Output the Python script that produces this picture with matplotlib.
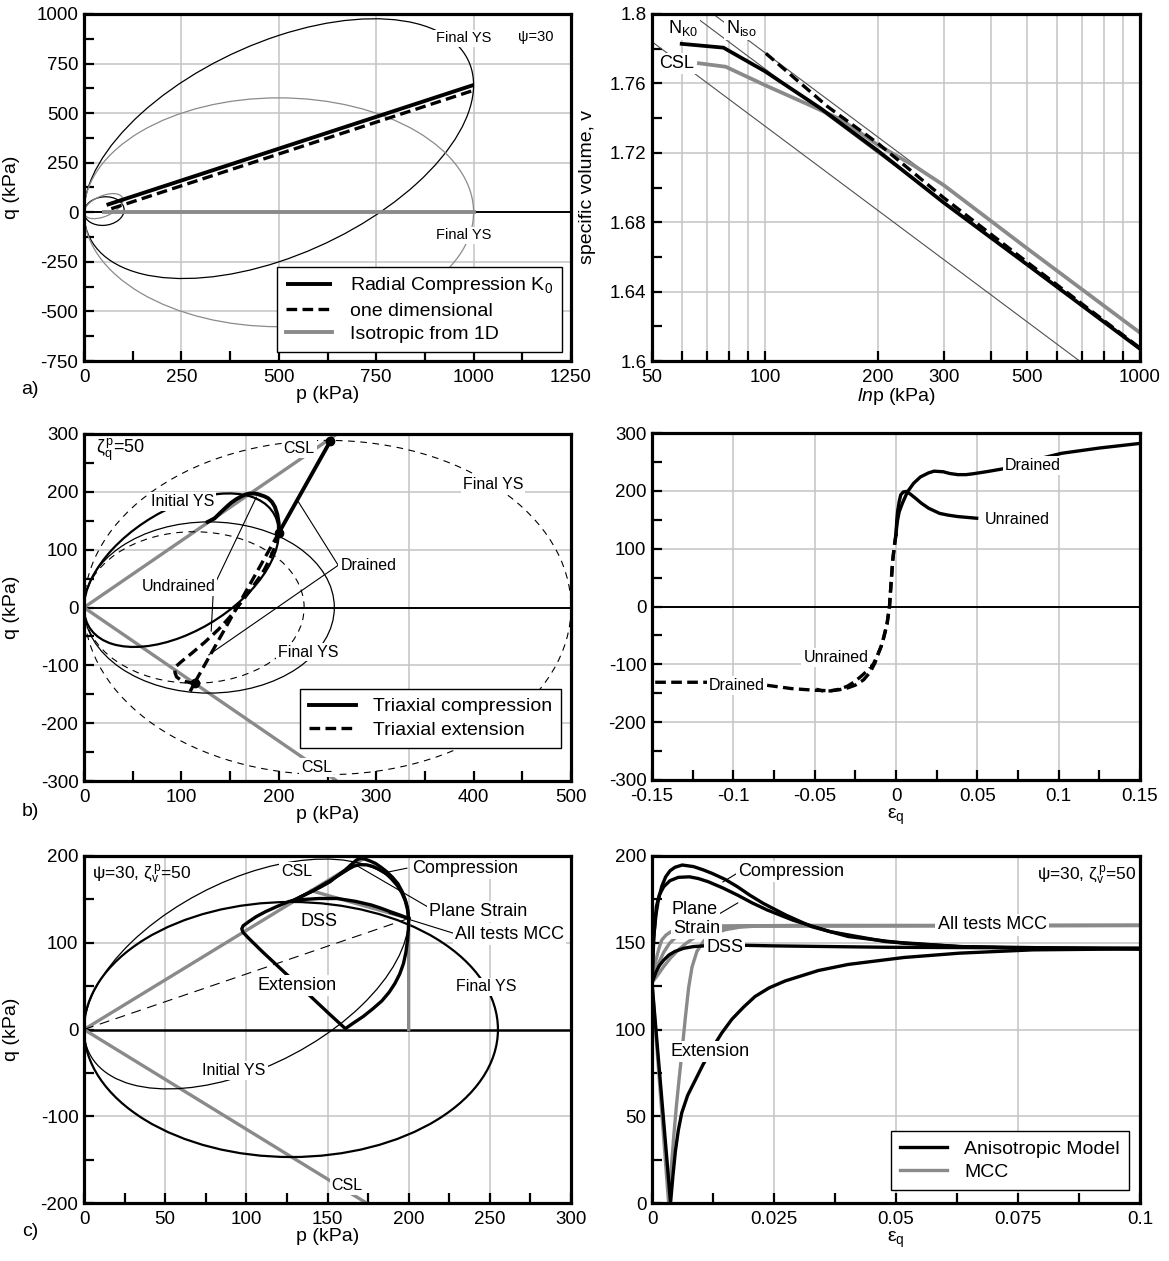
import numpy as np
import matplotlib
matplotlib.use('Agg')
import matplotlib.pyplot as plt
from matplotlib.patches import Ellipse
from matplotlib.transforms import Affine2D
from matplotlib.ticker import NullLocator

plt.rcParams['font.family'] = ['Liberation Sans', 'DejaVu Sans']
plt.rcParams['mathtext.fontset'] = 'custom'
plt.rcParams['mathtext.rm'] = 'Liberation Sans'
plt.rcParams['mathtext.it'] = 'Liberation Sans:italic'
plt.rcParams['mathtext.bf'] = 'Liberation Sans:bold'
plt.rcParams['axes.unicode_minus'] = False

# ---------------- data: panel a (p-q) ----------------
a_k0_p = [58, 1000]
a_k0_q = [37, 642]
a_1d_p = [70, 1000]
a_1d_q = [18, 615]
a_iso_p = [52, 1000]
a_iso_q = [0, 0]
# yield surfaces: tip p, tip q, half height at centre
a_ys_tip_p = [1000, 1000, 103, 100]
a_ys_tip_q = [642, 0, 12, 62]
a_ys_h = [571, 577, 72, 55]

# ---------------- data: panel a right (v - ln p) ----------------
v_k0_p = [60, 77.5, 100, 141, 200, 300, 500, 1000]
v_k0_v = [1.7828, 1.7806, 1.767, 1.7455, 1.7212, 1.6912, 1.6556, 1.607]
v_1d_p = [100.6, 147, 200, 300, 500, 1000]
v_1d_v = [1.7773, 1.7466, 1.7255, 1.694, 1.657, 1.6075]
v_iso_p = [66.7, 78.6, 100, 130, 160, 200, 250, 300, 500, 1000]
v_iso_v = [1.7716, 1.7696, 1.759, 1.748, 1.739, 1.7245, 1.7125, 1.7013, 1.6649, 1.6163]
nk0_p = [50, 1000]
nk0_v = [1.817, 1.607]
niso_p = [50, 1000]
niso_v = [1.8263, 1.6163]
vcsl_p = [50, 1000]
vcsl_v = [1.784, 1.574]

# ---------------- data: panel b (triaxial) ----------------
b_cslc_p = [0, 258]
b_cslc_q = [0, 298]
b_csle_p = [0, 258]
b_csle_q = [0, -298]
b_ys_tip_p = [200, 500, 257, 226]
b_ys_tip_q = [129, 0, 0, 0]
b_ys_h = [116, 289, 148, 131]
b_uc_p = [200, 200, 198.5, 196, 193, 189, 185.5, 182, 178.5, 175, 170, 166, 162, 156.5, 151, 146,
          141, 134, 127]
b_uc_q = [129, 145, 161, 174, 182.5, 189, 192, 194, 196, 197, 197, 195.5, 192.5, 187.5, 181, 173.5,
          165.5, 154, 148]
b_dc_p = [200, 253]
b_dc_q = [129, 288]
b_ue_p = [200, 198, 196, 192.5, 189, 185, 180, 175, 170, 165, 160, 155, 150, 144, 138, 131, 124,
          117, 110, 104, 99, 95, 93, 93.5, 95, 99, 104, 109, 113]
b_ue_q = [129, 118, 105, 91, 78, 65, 52, 40, 28, 17, 6, -5, -16, -27, -38, -49, -60, -70, -80,
          -88, -95, -101, -106, -113, -120, -125, -128, -130, -131]
b_de_p = [200, 157, 113.5, 109]
b_de_q = [129, 0, -130.5, -145]
b_dot_p = [253, 200, 113.5]
b_dot_q = [288, 129, -130.5]

# ---------------- data: panel b right (q - eps_q) ----------------
br_dc_e = [0, 0.0005, 0.001, 0.002, 0.004, 0.007, 0.0108, 0.015, 0.02, 0.0234, 0.029, 0.033,
           0.038, 0.043, 0.0474, 0.0565, 0.0657, 0.08, 0.102, 0.125, 0.15]
br_dc_q = [125, 140, 150, 164, 179, 198, 213, 224, 231, 234, 233, 230, 228, 228, 229.5, 233.5,
           238, 250, 265, 274, 282]
br_uc_e = [0, 0.0005, 0.001, 0.002, 0.0029, 0.0045, 0.0063, 0.009, 0.0125, 0.0154, 0.02, 0.0268,
           0.032, 0.038, 0.0496]
br_uc_q = [125, 150, 165, 182, 193, 198, 199, 194, 186, 179, 170, 161, 158, 155.5, 152.6]
br_ue_e = [0, -0.001, -0.002, -0.003, -0.004, -0.0055, -0.0075, -0.009, -0.011, -0.014, -0.018,
           -0.022, -0.026, -0.03, -0.035, -0.040, -0.045, -0.049]
br_ue_q = [125, 105, 80, 42, 0, -30, -53, -68, -82, -100, -112, -122, -131, -138, -143, -146,
           -146, -143]
br_de_e = [0, -0.001, -0.002, -0.003, -0.004, -0.0055, -0.0075, -0.009, -0.011, -0.013, -0.016,
           -0.020, -0.025, -0.030, -0.035, -0.040, -0.049, -0.064, -0.080, -0.10, -0.117, -0.15]
br_de_q = [125, 105, 80, 42, 0, -30, -53, -68, -82, -98, -114, -127, -136, -141, -144, -145.5,
           -145, -142, -136, -132, -131, -131]

# ---------------- data: panel c (p-q) ----------------
c_cslc_p = [0, 175]
c_cslc_q = [0, 200]
c_csle_p = [0, 174]
c_csle_q = [0, -200]
c_k0_p = [0, 200]
c_k0_q = [0, 128]
c_ys_tip_p = [200, 255]
c_ys_tip_q = [128, 0]
c_ys_h = [116, 147]
c_comp_p = [200, 199.3, 198, 196, 193.4, 190, 186.4, 183, 179.5, 176.5, 173.7, 171.3, 169.5,
            167.9, 164.5, 160.9, 156, 151.6, 146, 140, 134, 128.5]
c_comp_q = [128, 140, 149, 159, 168, 175.5, 182, 187, 191.5, 194, 196, 197.3, 196.8, 195.4,
            190, 183.8, 177, 170.4, 164.5, 158.8, 153.5, 148.5]
c_ps_p = [200, 199.2, 198, 195.8, 193, 189.5, 186, 182, 178, 174, 170, 166.5, 163, 157.5, 152,
          146, 140, 134, 128.5]
c_ps_q = [128, 139, 148, 157.5, 166, 173.5, 180, 184.5, 188, 189.8, 190, 188.5, 185, 178.5, 172,
          165.5, 159, 153.5, 148]
c_dss_p = [200, 194.5, 188.7, 183, 177, 167, 156, 144.7, 136, 128.5]
c_dss_q = [128, 132, 135.8, 139.8, 143.5, 147.8, 151, 151, 150, 148.5]
c_ext_p = [200, 199.8, 199.2, 198.3, 196.8, 194.5, 191.5, 188, 183.5, 178, 172, 166, 161, 150.5,
           140, 124, 110, 101, 98, 97.2, 98, 101.5, 106, 111.8, 118.5, 126, 128.5]
c_ext_q = [128, 115, 102, 89, 76, 64, 53, 43, 33, 24, 15, 7.5, 1, 19, 37.5, 65, 89.5, 106, 112,
           116, 119.5, 124.3, 130, 135.8, 141.5, 147.4, 148.5]
c_mcc_p = [200, 200, 140]
c_mcc_q = [0, 128, 160]

# ---------------- data: panel c right (q - eps_q) ----------------
cr_comp_e = [0, 0.0003, 0.0008, 0.0013, 0.002, 0.0028, 0.0037, 0.0047, 0.0062, 0.0085, 0.0105,
             0.0123, 0.015, 0.0175, 0.02, 0.0228, 0.0274, 0.0327, 0.0402, 0.0516, 0.063, 0.078,
             0.1]
cr_comp_q = [127, 151.6, 166, 174.7, 182.5, 188, 191.5, 193.5, 194.8, 193.9, 192, 190, 186.5,
             182.3, 177.5, 172.7, 166, 159.3, 153.6, 149.7, 147.8, 146.8, 146.8]
cr_ps_e = [0, 0.0004, 0.0009, 0.0015, 0.0024, 0.0037, 0.0054, 0.0077, 0.0095, 0.0115, 0.0145,
           0.0175, 0.0205, 0.0236, 0.0289, 0.0365, 0.0478, 0.063, 0.1]
cr_ps_q = [127, 155, 170.8, 177.5, 182.3, 185.8, 187.7, 188, 187, 185.2, 181.6, 177.5, 173,
           168.9, 163, 156.4, 150.7, 147.8, 146.3]
cr_dss_e = [0, 0.0004, 0.0008, 0.0015, 0.0024, 0.0035, 0.0047, 0.0065, 0.0085, 0.0138, 0.025,
            0.0478, 0.1]
cr_dss_q = [127, 130, 133, 136.8, 140, 143, 145, 146.8, 147.8, 148.8, 148.2, 147.4, 146.8]
cr_ext_e = [0, 0.0038, 0.0043, 0.0048, 0.0054, 0.0061, 0.0073, 0.0089, 0.0105, 0.0123, 0.0143,
            0.0164, 0.0188, 0.0211, 0.024, 0.0273, 0.0341, 0.0402, 0.0516, 0.063, 0.078, 0.1]
cr_ext_q = [127, 0, 16, 30, 42, 52, 62, 71, 80, 89, 98, 106, 113, 119, 124, 128, 134, 137.5,
            141.5, 144, 145.9, 146.5]
cr_mcomp_e = [0, 0.0004, 0.0008, 0.0014, 0.002, 0.0029, 0.0039, 0.0053, 0.007, 0.0095, 0.0138, 0.1]
cr_mcomp_q = [127, 134, 140, 146.5, 151.6, 154.5, 156.4, 158, 159, 159.5, 159.7, 160]
cr_mps_e = [0, 0.0006, 0.0013, 0.0024, 0.0036, 0.0048, 0.0062, 0.008, 0.01, 0.013, 0.018, 0.1]
cr_mps_q = [127, 132.5, 138, 144.5, 149.7, 153, 155.5, 157.2, 158.3, 159.2, 159.7, 160]
cr_mdss_e = [0, 0.0012, 0.0024, 0.0038, 0.0054, 0.0069, 0.0085, 0.0103, 0.0123, 0.0148, 0.0175,
             0.022, 0.03, 0.1]
cr_mdss_q = [127, 131.5, 136.3, 141.2, 145.9, 149.5, 152.6, 155.2, 157.4, 158.6, 159.3, 159.8,
             160, 160]
cr_mext_e = [0, 0.0034, 0.004, 0.0045, 0.005, 0.0055, 0.0061, 0.0068, 0.0075, 0.0082, 0.0092,
             0.0106, 0.0125, 0.015, 0.018, 0.022, 0.1]
cr_mext_q = [127, 0, 22, 40, 56, 70, 86, 106, 124, 136, 145, 151, 155, 157.5, 159, 159.7, 160]

# ---------------- styling helpers ----------------
GRID = '#c4c4c4'
GRAY = '#8a8a8a'
W, H = 1169, 1261
fig = plt.figure(figsize=(W / 100, H / 100), dpi=100)


def rect(x0, x1, ytop, ybot):
    return [x0 / W, 1 - ybot / H, (x1 - x0) / W, (ybot - ytop) / H]


def setup(ax, xlim, ylim, xmaj, xlab, xmin, ymaj, ylab, ymin, xgrid, ygrid):
    ax.set_xlim(*xlim)
    ax.set_ylim(*ylim)
    ax.set_xticks(xmaj, labels=xlab)
    ax.set_yticks(ymaj, labels=ylab)
    if xmin is not None:
        ax.set_xticks(xmin, minor=True)
    else:
        ax.xaxis.set_minor_locator(NullLocator())
    if ymin is not None:
        ax.set_yticks(ymin, minor=True)
    else:
        ax.yaxis.set_minor_locator(NullLocator())
    for g in xgrid:
        ax.axvline(g, color=GRID, lw=1.1, zorder=0)
    for g in ygrid:
        ax.axhline(g, color=GRID, lw=1.1, zorder=0)
    ax.tick_params(which='both', direction='in', top=False, right=False,
                   width=1.6, length=7, labelsize=13.5)
    ax.tick_params(axis='x', which='both', pad=6)
    ax.tick_params(axis='y', which='both', pad=4)
    for s in ax.spines.values():
        s.set_linewidth(2.3)
        s.set_zorder(10)


def ys(ax, tip_p, tip_q, h, **kw):
    e = Ellipse((0, 0), 2, 2, fill=False, **kw)
    tr = Affine2D(np.array([[tip_p / 2, 0, tip_p / 2],
                            [tip_q / 2, h, tip_q / 2],
                            [0, 0, 1]])) + ax.transData
    e.set_transform(tr)
    ax.add_patch(e)


def lab(ax, x, y, s, fs=10.5, color='k', **kw):
    ax.text(x, y, s, ha='center', va='center', fontsize=fs, color=color, zorder=6,
            bbox=dict(boxstyle='square,pad=0.12', fc='white', ec='none'), **kw)


def lead(ax, x0, y0, x1, y1, color='k'):
    ax.annotate('', xy=(x1, y1), xytext=(x0, y0),
                arrowprops=dict(arrowstyle='-', color=color, lw=0.8,
                                shrinkA=0, shrinkB=0), zorder=5)


def legend(ax, anchor, fs=13.5, handles=None, labels=None):
    kw = dict(loc='lower right', bbox_to_anchor=anchor, borderaxespad=0,
              fontsize=fs, frameon=True, fancybox=False, framealpha=1,
              edgecolor='k', handlelength=2.4, handletextpad=0.9,
              labelspacing=0.3, borderpad=0.45)
    if handles is None:
        lg = ax.legend(**kw)
    else:
        lg = ax.legend(handles, labels, **kw)
    lg.get_frame().set_linewidth(1.0)
    lg.set_zorder(20)


TH = 2.4  # thick line width
DASH = (0, (3.2, 1.6))

# ================= panel a left =================
ax = fig.add_axes(rect(84, 571, 14, 361))
setup(ax, (0, 1250), (-750, 1000),
      [0, 250, 500, 750, 1000, 1250], ['0', '250', '500', '750', '1000', '1250'],
      [125, 375, 625, 875, 1125],
      [-750, -500, -250, 0, 250, 500, 750, 1000],
      ['-750', '-500', '-250', '0', '250', '500', '750', '1000'],
      [-625, -375, -125, 125, 375, 625, 875],
      [250, 500, 750, 1000], [-500, -250, 250, 500, 750])
ax.axhline(0, color='k', lw=1.4, zorder=1)
ys(ax, a_ys_tip_p[0], a_ys_tip_q[0], a_ys_h[0], color='k', lw=0.9, zorder=2)
ys(ax, a_ys_tip_p[1], a_ys_tip_q[1], a_ys_h[1], color=GRAY, lw=0.9, zorder=2)
ys(ax, a_ys_tip_p[2], a_ys_tip_q[2], a_ys_h[2], color='k', lw=0.9, zorder=2)
ys(ax, a_ys_tip_p[3], a_ys_tip_q[3], a_ys_h[3], color=GRAY, lw=0.9, zorder=2)
ax.plot(a_k0_p, a_k0_q, color='k', lw=TH + 0.4, zorder=3, label=r'Radial Compression K$_0$',
        solid_capstyle='butt')
ax.plot(a_1d_p, a_1d_q, color='k', lw=TH, ls=DASH, zorder=3, label='one dimensional')
ax.plot(a_iso_p, a_iso_q, color=GRAY, lw=TH + 0.4, zorder=3, label='Isotropic from 1D')
lab(ax, 975, 877, 'Final YS', fs=10.5)
lab(ax, 975, -116, 'Final YS', fs=10.5)
ax.text(1160, 886, 'ψ=30', ha='center', va='center', fontsize=10.5, zorder=6)
ax.set_xlabel('p (kPa)', fontsize=14, labelpad=0)
ax.set_ylabel('q (kPa)', fontsize=14)
ax.yaxis.set_label_coords(-0.131, 0.5)
legend(ax, (0.981, 0.026), fs=14)

# ================= panel a right =================
ax = fig.add_axes(rect(652, 1140, 14, 361))
ax.set_xscale('log')
vt = [50, 60, 70, 80, 90, 100, 200, 300, 400, 500, 600, 700, 800, 900, 1000]
vl = ['50', '', '', '', '', '100', '200', '300', '', '500', '', '', '', '', '1000']
setup(ax, (50, 1000), (1.6, 1.8), vt, vl, None,
      [1.6, 1.64, 1.68, 1.72, 1.76, 1.8], ['1.6', '1.64', '1.68', '1.72', '1.76', '1.8'],
      [1.62, 1.66, 1.70, 1.74, 1.78],
      vt[1:-1], [1.64, 1.68, 1.72, 1.76])
ax.plot(nk0_p, nk0_v, color='#505050', lw=0.8, zorder=2)
ax.plot(niso_p, niso_v, color='#505050', lw=0.8, zorder=2)
ax.plot(vcsl_p, vcsl_v, color='#505050', lw=0.8, zorder=2)
ax.plot(v_iso_p, v_iso_v, color=GRAY, lw=TH + 0.3, zorder=3)
ax.plot(v_k0_p, v_k0_v, color='k', lw=TH + 0.3, zorder=3)
ax.plot(v_1d_p, v_1d_v, color='k', lw=TH, ls=DASH, zorder=3)
lab(ax, 60.4, 1.792, r'N$_{\mathregular{K0}}$', fs=13)
lab(ax, 86.5, 1.792, r'N$_{\mathregular{iso}}$', fs=13)
lab(ax, 58, 1.7716, 'CSL', fs=13)
ax.set_xlabel(r'$\mathit{ln}$p (kPa)', fontsize=14, labelpad=0)
ax.set_ylabel('specific volume, v', fontsize=14)
ax.yaxis.set_label_coords(-0.115, 0.5)

# ================= panel b left =================
ax = fig.add_axes(rect(84, 571, 434, 781))
setup(ax, (0, 500), (-300, 300),
      [0, 100, 200, 300, 400, 500], ['0', '100', '200', '300', '400', '500'],
      [50, 150, 250, 350, 450],
      [-300, -200, -100, 0, 100, 200, 300],
      ['-300', '-200', '-100', '0', '100', '200', '300'],
      [-250, -150, -50, 50, 150, 250],
      [500 / 3, 1000 / 3], [-200, -100, 100, 200])
ax.axhline(0, color='k', lw=1.4, zorder=1)
ax.plot(b_cslc_p, b_cslc_q, color=GRAY, lw=TH, zorder=2)
ax.plot(b_csle_p, b_csle_q, color=GRAY, lw=TH, zorder=2)
ys(ax, b_ys_tip_p[0], b_ys_tip_q[0], b_ys_h[0], color='k', lw=1.6, zorder=2)
ys(ax, b_ys_tip_p[1], b_ys_tip_q[1], b_ys_h[1], color='k', lw=0.8, ls=(0, (6, 5)), zorder=2)
ys(ax, b_ys_tip_p[2], b_ys_tip_q[2], b_ys_h[2], color='k', lw=0.9, zorder=2)
ys(ax, b_ys_tip_p[3], b_ys_tip_q[3], b_ys_h[3], color='k', lw=0.8, ls=(0, (6, 5)), zorder=2)
ax.plot(b_uc_p, b_uc_q, color='k', lw=TH + 0.4, zorder=3, label='Triaxial compression')
ax.plot(b_dc_p, b_dc_q, color='k', lw=TH + 0.4, zorder=3)
ax.plot(b_ue_p, b_ue_q, color='k', lw=TH, ls=DASH, zorder=3, label='Triaxial extension')
ax.plot(b_de_p, b_de_q, color='k', lw=TH, ls=DASH, zorder=3)
ax.plot(b_dot_p, b_dot_q, ls='none', marker='o', ms=6, color='k', zorder=4)
lead(ax, 133, 36, 177, 191)
lead(ax, 133, 36, 130.6, -41)
lead(ax, 261, 73, 220, 183)
lead(ax, 261, 73, 128, -82)
lab(ax, 101, 183, 'Initial YS', fs=11.5)
lab(ax, 97, 36, 'Undrained', fs=11.5)
lab(ax, 292, 72, 'Drained', fs=11.5)
lab(ax, 230, -77, 'Final YS', fs=11.5)
lab(ax, 420, 212, 'Final YS', fs=11.5)
lab(ax, 221, 275, 'CSL', fs=11.5)
lab(ax, 239, -276, 'CSL', fs=11.5)
ax.text(38, 273, r'$\mathregular{ζ_q^{\,p}}$=50', ha='center', va='center', fontsize=13, zorder=6)
ax.set_xlabel('p (kPa)', fontsize=14, labelpad=0)
ax.set_ylabel('q (kPa)', fontsize=14)
ax.yaxis.set_label_coords(-0.131, 0.5)
legend(ax, (0.98, 0.096), fs=14)

# ================= panel b right =================
ax = fig.add_axes(rect(652, 1140, 433, 780))
setup(ax, (-0.15, 0.15), (-300, 300),
      [-0.15, -0.1, -0.05, 0, 0.05, 0.1, 0.15],
      ['-0.15', '-0.1', '-0.05', '0', '0.05', '0.1', '0.15'],
      [-0.125, -0.075, -0.025, 0.025, 0.075, 0.125],
      [-300, -200, -100, 0, 100, 200, 300],
      ['-300', '-200', '-100', '0', '100', '200', '300'],
      [-250, -150, -50, 50, 150, 250],
      [-0.1, -0.05, 0, 0.05, 0.1], [-200, -100, 100, 200])
ax.axhline(0, color='k', lw=1.4, zorder=1)
ax.plot(br_dc_e, br_dc_q, color='k', lw=TH, zorder=3)
ax.plot(br_uc_e, br_uc_q, color='k', lw=TH, zorder=3)
ax.plot(br_ue_e, br_ue_q, color='k', lw=TH, ls=DASH, zorder=3)
ax.plot(br_de_e, br_de_q, color='k', lw=TH, ls=DASH, zorder=3)
lab(ax, 0.084, 244, 'Drained', fs=11.5)
lab(ax, 0.0743, 149.7, 'Unrained', fs=11.5)
lab(ax, -0.037, -88.4, 'Unrained', fs=11.5)
lab(ax, -0.098, -136.4, 'Drained', fs=11.5)
ax.set_xlabel(r'$\mathregular{ε_q}$', fontsize=14, labelpad=1)

# ================= panel c left =================
ax = fig.add_axes(rect(84, 571, 856, 1203))
setup(ax, (0, 300), (-200, 200),
      [0, 50, 100, 150, 200, 250, 300], ['0', '50', '100', '150', '200', '250', '300'],
      [25, 75, 125, 175, 225, 275],
      [-200, -100, 0, 100, 200], ['-200', '-100', '0', '100', '200'],
      [-150, -50, 50, 150],
      [50, 100, 150, 200, 250], [-100, 100])
ax.axhline(0, color='k', lw=1.8, zorder=1)
ax.plot(c_cslc_p, c_cslc_q, color=GRAY, lw=TH, zorder=2)
ax.plot(c_csle_p, c_csle_q, color=GRAY, lw=TH, zorder=2)
ax.plot(c_k0_p, c_k0_q, color='k', lw=0.8, ls=(0, (9, 6)), zorder=2)
ys(ax, c_ys_tip_p[0], c_ys_tip_q[0], c_ys_h[0], color='k', lw=0.9, zorder=2)
ys(ax, c_ys_tip_p[1], c_ys_tip_q[1], c_ys_h[1], color='k', lw=1.6, zorder=2)
ax.plot(c_mcc_p, c_mcc_q, color=GRAY, lw=TH, zorder=3)
ax.plot(c_comp_p, c_comp_q, color='k', lw=TH, zorder=3)
ax.plot(c_ps_p, c_ps_q, color='k', lw=TH, zorder=3)
ax.plot(c_dss_p, c_dss_q, color='k', lw=TH, zorder=3)
ax.plot(c_ext_p, c_ext_q, color='k', lw=TH, zorder=3)
lead(ax, 199, 186, 186, 181)
lead(ax, 213, 140, 168, 189)
lead(ax, 231, 109, 188, 134)
ax.text(35.7, 178, r'ψ=30, $\mathregular{ζ_v^{\,p}}$=50', ha='center', va='center',
        fontsize=12.5, zorder=6)
lab(ax, 131, 182, 'CSL', fs=11.5)
lab(ax, 235, 186, 'Compression', fs=13)
lab(ax, 243, 136, 'Plane Strain', fs=13)
lab(ax, 262, 110, 'All tests MCC', fs=13)
ax.text(144.7, 124, 'DSS', ha='center', va='center', fontsize=13, zorder=6)
lab(ax, 131, 51, 'Extension', fs=13)
lab(ax, 248, 49, 'Final YS', fs=11.5)
lab(ax, 92.5, -47, 'Initial YS', fs=11.5)
lab(ax, 162, -180, 'CSL', fs=11.5)
ax.set_xlabel('p (kPa)', fontsize=14, labelpad=0)
ax.set_ylabel('q (kPa)', fontsize=14)
ax.yaxis.set_label_coords(-0.131, 0.5)

# ================= panel c right =================
ax = fig.add_axes(rect(652, 1140, 856, 1203))
setup(ax, (0, 0.1), (0, 200),
      [0, 0.025, 0.05, 0.075, 0.1], ['0', '0.025', '0.05', '0.075', '0.1'],
      [0.0125, 0.0375, 0.0625, 0.0875],
      [0, 50, 100, 150, 200], ['0', '50', '100', '150', '200'],
      [25, 75, 125, 175],
      [0.025, 0.05, 0.075], [50, 100, 150])
ax.plot(cr_mcomp_e, cr_mcomp_q, color=GRAY, lw=TH, zorder=3)
ax.plot(cr_mps_e, cr_mps_q, color=GRAY, lw=TH, zorder=3)
ax.plot(cr_mdss_e, cr_mdss_q, color=GRAY, lw=TH, zorder=3)
ax.plot(cr_mext_e, cr_mext_q, color=GRAY, lw=TH, zorder=3, label='MCC')
ax.plot(cr_comp_e, cr_comp_q, color='k', lw=TH, zorder=4, label='Anisotropic Model')
ax.plot(cr_ps_e, cr_ps_q, color='k', lw=TH, zorder=4)
ax.plot(cr_dss_e, cr_dss_q, color='k', lw=TH, zorder=4)
ax.plot(cr_ext_e, cr_ext_q, color='k', lw=TH, zorder=4)
lead(ax, 0.0180, 191, 0.0145, 185)
lead(ax, 0.0134, 166, 0.0176, 173)
lab(ax, 0.0285, 191, 'Compression', fs=13)
lab(ax, 0.0088, 169, 'Plane', fs=13)
lab(ax, 0.0091, 158.3, 'Strain', fs=13)
lab(ax, 0.0149, 147.4, 'DSS', fs=13)
lab(ax, 0.0697, 160.3, 'All tests MCC', fs=13)
lab(ax, 0.0119, 87.3, 'Extension', fs=13)
ax.text(0.089, 188.6, r'ψ=30, $\mathregular{ζ_v^{\,p}}$=50', ha='center', va='center',
        fontsize=12.5, zorder=6)
ax.set_xlabel(r'$\mathregular{ε_q}$', fontsize=14, labelpad=1)
h, l = ax.get_legend_handles_labels()
legend(ax, (0.977, 0.038), fs=14, handles=h[::-1], labels=l[::-1])

# panel letters
fig.text(30 / W, 1 - 390 / H, 'a)', fontsize=14, ha='center', va='center')
fig.text(30 / W, 1 - 812 / H, 'b)', fontsize=14, ha='center', va='center')
fig.text(30 / W, 1 - 1232 / H, 'c)', fontsize=14, ha='center', va='center')

fig.savefig('out.png', dpi=100)
